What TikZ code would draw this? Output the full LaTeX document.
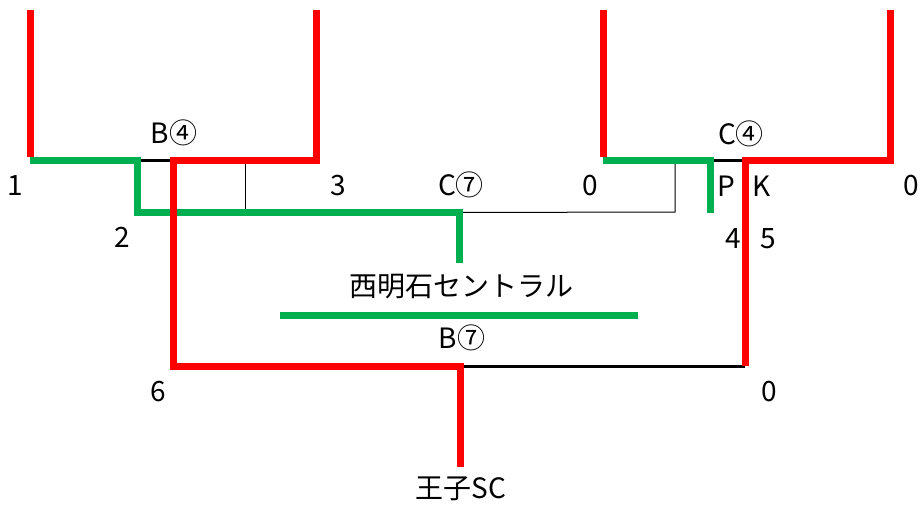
\documentclass[tikz,border=0pt]{standalone}
\usepackage{fontspec}
\setmainfont{Noto Sans CJK JP}
\begin{document}
\begin{tikzpicture}[x=1pt,y=-1pt,
  red line/.style={draw=red,line width=7pt},
  win line/.style={draw=black,line width=3pt},
  thin line/.style={draw=black,line width=1pt},
  lbl/.style={inner sep=0pt,font=\fontsize{28}{31}\selectfont}]
\definecolor{grn}{RGB}{0,176,80}
\tikzset{green line/.style={draw=grn,line width=7pt}}
\useasboundingbox (0,0) rectangle (922,511);
% coordinates
\coordinate (t1) at (30,10);
\coordinate (c1) at (30,160);
\coordinate (g1) at (137,160);
\coordinate (g1b) at (137,212.5);
\coordinate (r1) at (173,160);
\coordinate (t3) at (316,10);
\coordinate (c3) at (316,160);
\coordinate (m1) at (245,160);
\coordinate (m1b) at (245,212.5);
\coordinate (cq) at (459,212.5);
\coordinate (cqb) at (459,263);
\coordinate (r6) at (173,366);
\coordinate (fin) at (460,366);
\coordinate (finb) at (460,467);
\coordinate (t0) at (603,10);
\coordinate (c0) at (603,160);
\coordinate (g2) at (710.5,160);
\coordinate (g2b) at (710.5,213);
\coordinate (r2) at (745,160);
\coordinate (t4) at (890,10);
\coordinate (c4) at (890,160);
\coordinate (m2) at (675,160);
\coordinate (m2b) at (675,212);
\coordinate (r5) at (745,366);
\coordinate (gl) at (280,315);
\coordinate (gr) at (638,315);
% thin lines
\draw[thin line] (m1) -- (m1b);
\draw[thin line] (cq) -- (m2b) -- (m2);
% thick black
\draw[win line] (g1) -- (r1);
\draw[win line] (g2) -- (r2);
\draw[win line] (fin) -- (r5);
% green
\draw[green line] (c1) -- (g1) -- (g1b) -- (cq) -- (cqb);
\draw[green line] (c0) -- (g2) -- (g2b);
\draw[green line] (gl) -- (gr);
% red
\draw[red line,line join=miter] (t1) -- ([yshift=3.5pt]c1);
\draw[red line,line join=miter] (t3) -- (c3) -- (r1) -- (r6) -- (fin) -- (finb);
\draw[red line,line join=miter] (t0) -- ([yshift=3.5pt]c0);
\draw[red line,line join=miter] (t4) -- (c4) -- (r2) -- (r5);
% labels
\node[lbl] (l1) at (15,186) {1};
\node[lbl] (l2) at (122,237) {2};
\node[lbl] (lB4) at (174,133) {B④};
\node[lbl] (l3) at (338,186) {3};
\node[lbl] (lC7) at (461,185) {C⑦};
\node[lbl] (l0a) at (590,186) {0};
\node[lbl] (lC4) at (741,134) {C④};
\node[lbl] (lP) at (726,186) {P};
\node[lbl] (lK) at (762,186) {K};
\node[lbl] (l0b) at (911,186) {0};
\node[lbl] (l4) at (733,239) {4};
\node[lbl] (l5) at (768,239) {5};
\node[lbl] (team1) at (461,287) {西明石セントラル};
\node[lbl] (lB7) at (462,338) {B⑦};
\node[lbl] (l6) at (158,392) {6};
\node[lbl] (l0c) at (769,392) {0};
\node[lbl] (team2) at (461,489) {王子SC};
\end{tikzpicture}
\end{document}
